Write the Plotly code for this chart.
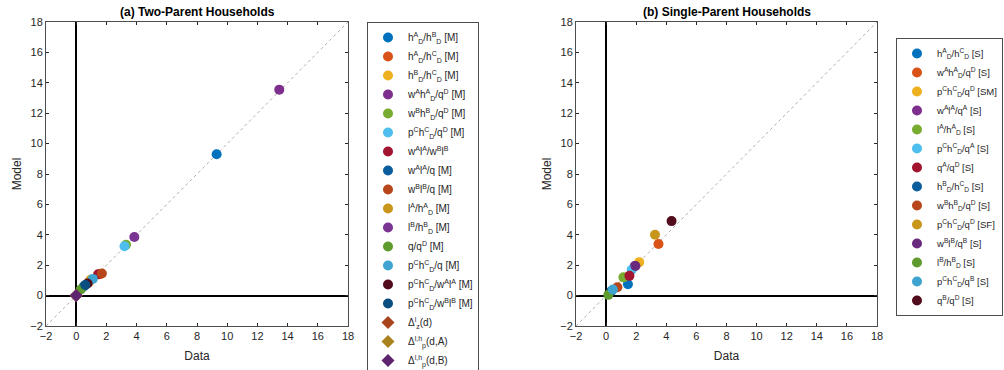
import plotly.graph_objects as go

# ---------------- data ----------------
ticks = [-2, 0, 2, 4, 6, 8, 10, 12, 14, 16, 18]
diag = [-2, 18]

two_labels = [
    "h<sup>A</sup><sub>D</sub>/h<sup>B</sup><sub>D</sub> [M]",
    "h<sup>A</sup><sub>D</sub>/h<sup>C</sup><sub>D</sub> [M]",
    "h<sup>B</sup><sub>D</sub>/h<sup>C</sup><sub>D</sub> [M]",
    "w<sup>A</sup>h<sup>A</sup><sub>D</sub>/q<sup>D</sup> [M]",
    "w<sup>B</sup>h<sup>B</sup><sub>D</sub>/q<sup>D</sup> [M]",
    "p<sup>C</sup>h<sup>C</sup><sub>D</sub>/q<sup>D</sup> [M]",
    "w<sup>A</sup>l<sup>A</sup>/w<sup>B</sup>l<sup>B</sup>",
    "w<sup>A</sup>l<sup>A</sup>/q [M]",
    "w<sup>B</sup>l<sup>B</sup>/q [M]",
    "l<sup>A</sup>/h<sup>A</sup><sub>D</sub> [M]",
    "l<sup>B</sup>/h<sup>B</sup><sub>D</sub> [M]",
    "q/q<sup>D</sup> [M]",
    "p<sup>C</sup>h<sup>C</sup><sub>D</sub>/q [M]",
    "p<sup>C</sup>h<sup>C</sup><sub>D</sub>/w<sup>A</sup>l<sup>A</sup> [M]",
    "p<sup>C</sup>h<sup>C</sup><sub>D</sub>/w<sup>B</sup>l<sup>B</sup> [M]",
    "Δ<sup>l</sup><sub>z</sub>(d)",
    "Δ<sup>l,h</sup><sub>p</sub>(d,A)",
    "Δ<sup>l,h</sup><sub>p</sub>(d,B)",
]
two_data = [9.3, 1.55, 0.95, 13.45, 3.3, 3.2, 1.45, 0.5, 1.7, 0.85, 3.85, 0.3, 1.1, 0.75, 0.6, 0.0, 0.0, 0.0]
two_model = [9.3, 1.4, 1.05, 13.55, 3.35, 3.25, 1.4, 0.6, 1.45, 0.9, 3.85, 0.4, 1.1, 0.8, 0.7, 0.0, 0.0, 0.0]
two_colors = ["#0072BD", "#D95319", "#EDB120", "#7E2F8E", "#77AC30", "#4DBEEE", "#A2142F",
              "#0B5E9E", "#B8461B", "#C9961C", "#7A3492", "#5E9A2E", "#3FA3CF", "#520C1C",
              "#0A4F80", "#A8441C", "#A8821E", "#5F2470"]
two_symbols = ["circle"] * 15 + ["diamond"] * 3

one_labels = [
    "h<sup>A</sup><sub>D</sub>/h<sup>C</sup><sub>D</sub> [S]",
    "w<sup>A</sup>h<sup>A</sup><sub>D</sub>/q<sup>D</sup> [S]",
    "p<sup>C</sup>h<sup>C</sup><sub>D</sub>/q<sup>D</sup> [SM]",
    "w<sup>A</sup>l<sup>A</sup>/q<sup>A</sup> [S]",
    "l<sup>A</sup>/h<sup>A</sup><sub>D</sub> [S]",
    "p<sup>C</sup>h<sup>C</sup><sub>D</sub>/q<sup>A</sup> [S]",
    "q<sup>A</sup>/q<sup>D</sup> [S]",
    "h<sup>B</sup><sub>D</sub>/h<sup>C</sup><sub>D</sub> [S]",
    "w<sup>B</sup>h<sup>B</sup><sub>D</sub>/q<sup>D</sup> [S]",
    "p<sup>C</sup>h<sup>C</sup><sub>D</sub>/q<sup>D</sup> [SF]",
    "w<sup>B</sup>l<sup>B</sup>/q<sup>B</sup> [S]",
    "l<sup>B</sup>/h<sup>B</sup><sub>D</sub> [S]",
    "p<sup>C</sup>h<sup>C</sup><sub>D</sub>/q<sup>B</sup> [S]",
    "q<sup>B</sup>/q<sup>D</sup> [S]",
]
one_data = [1.45, 3.48, 2.2, 1.9, 1.15, 1.7, 1.55, 0.35, 0.75, 3.25, 1.95, 0.15, 0.45, 4.35]
one_model = [0.75, 3.4, 2.2, 1.95, 1.2, 1.7, 1.3, 0.3, 0.55, 4.0, 1.95, 0.05, 0.4, 4.9]
one_colors = ["#0072BD", "#D95319", "#EDB120", "#7E2F8E", "#77AC30", "#4DBEEE", "#A2142F",
              "#0B5E9E", "#B8461B", "#C9961C", "#6A2A7E", "#5E9A2E", "#3FA3CF", "#520C1C"]

# ---------------- figure ----------------
fig = go.Figure()
FONT = "Liberation Sans, Arial, sans-serif"
TXT = "#262626"

def add_panel(labels, xs, ys, colors, symbols, xa, ya, legend):
    fig.add_trace(go.Scatter(x=diag, y=diag, mode="lines", xaxis=xa, yaxis=ya,
                             line=dict(color="#9a9a9a", width=0.8, dash="dot"),
                             showlegend=False, hoverinfo="skip"))
    for lab, x, y, c, s in zip(labels, xs, ys, colors, symbols):
        fig.add_trace(go.Scatter(x=[x], y=[y], mode="markers", name=lab,
                                 xaxis=xa, yaxis=ya, legend=legend,
                                 marker=dict(color=c, size=10, symbol=s,
                                             line=dict(width=0))))

add_panel(two_labels, two_data, two_model, two_colors, two_symbols, "x", "y", "legend")
add_panel(one_labels, one_data, one_model, one_colors, ["circle"] * len(one_labels), "x2", "y2", "legend2")

ax_common = dict(range=[-2, 18], tickvals=ticks, ticks="inside", ticklen=3,
                 tickcolor=TXT, showline=True, linecolor="#4d4d4d", linewidth=1,
                 mirror="ticks", showgrid=False, zeroline=True, zerolinecolor="#000000",
                 zerolinewidth=1.5, automargin=False,
                 tickfont=dict(size=11, color=TXT, family=FONT))

fig.update_layout(
    width=1004, height=370,
    margin=dict(l=0, r=0, t=0, b=0, autoexpand=False),
    paper_bgcolor="white", plot_bgcolor="white",
    font=dict(family=FONT, color=TXT, size=11),
    xaxis=dict(domain=[46 / 1004, 348 / 1004], anchor="y",
               title=dict(text="Data", font=dict(size=12, color=TXT), standoff=10), **ax_common),
    yaxis=dict(domain=[44 / 370, 348 / 370], anchor="x",
               title=dict(text="Model", font=dict(size=12, color=TXT), standoff=6), **ax_common),
    xaxis2=dict(domain=[576 / 1004, 877 / 1004], anchor="y2",
                title=dict(text="Data", font=dict(size=12, color=TXT), standoff=10), **ax_common),
    yaxis2=dict(domain=[44 / 370, 348 / 370], anchor="x2",
                title=dict(text="Model", font=dict(size=12, color=TXT), standoff=6), **ax_common),
    legend=dict(x=367 / 1004, y=1 - 22 / 370, xanchor="left", yanchor="top",
                bordercolor="#4d4d4d", borderwidth=1, bgcolor="white",
                font=dict(size=10, color=TXT, family=FONT)),
    legend2=dict(x=896 / 1004, y=1 - 38 / 370, xanchor="left", yanchor="top",
                 bordercolor="#4d4d4d", borderwidth=1, bgcolor="white",
                 font=dict(size=9.5, color=TXT, family=FONT)),
    annotations=[
        dict(text="<b>(a) Two-Parent Households</b>", x=197 / 1004, y=1 - 12 / 370,
             xanchor="center", yanchor="middle",
             xref="paper", yref="paper", showarrow=False, font=dict(size=12, color="#000")),
        dict(text="<b>(b) Single-Parent Households</b>", x=727 / 1004, y=1 - 12 / 370,
             xanchor="center", yanchor="middle",
             xref="paper", yref="paper", showarrow=False, font=dict(size=12, color="#000")),
    ],
)

fig.write_html("out.html", config={"displayModeBar": False},
               post_script="document.body.style.margin='0';document.body.style.padding='0';")
